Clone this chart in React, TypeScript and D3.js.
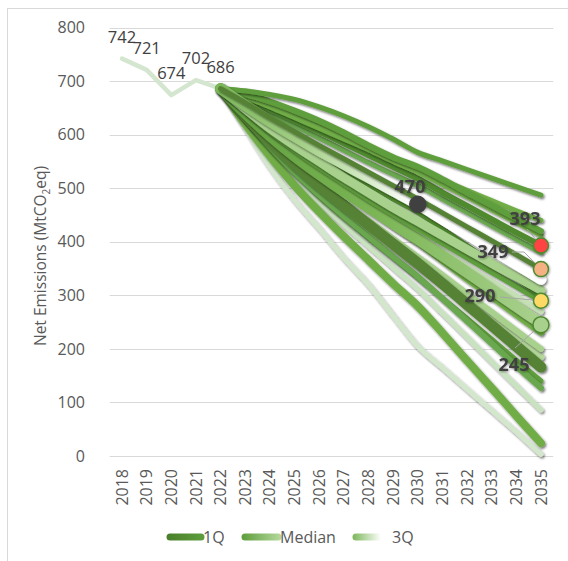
import React from 'react';
import * as d3 from 'd3';

const years = ['2018','2019','2020','2021','2022','2023','2024','2025','2026','2027','2028','2029','2030','2031','2032','2033','2034','2035'];
const historyYears = ['2018','2019','2020','2021','2022'];
const historyValues = [742, 721, 674, 702, 686];
const scenarioYears = ['2022','2023','2024','2025','2026','2027','2028','2029','2030','2031','2032','2033','2034','2035'];
const yTicks = [0, 100, 200, 300, 400, 500, 600, 700, 800];

const scenarioA = [686, 682, 675, 666, 652, 635, 615, 592, 567, 551, 535, 519, 503, 487];
const scenarioB = [686, 676, 662, 645, 626, 604, 580, 558, 540, 517, 492, 468, 444, 420];
const scenarioC = [686, 670, 652, 632, 612, 592, 572, 550, 530, 507, 484, 460, 436, 412];
const scenarioD = [686, 668, 648, 627, 606, 584, 562, 540, 518, 492, 467, 442, 417, 393];
const scenarioE = [686, 664, 640, 617, 594, 571, 548, 526, 505, 480, 455, 430, 405, 380];
const scenarioF = [686, 655, 625, 597, 570, 545, 520, 495, 470, 442, 414, 386, 358, 330];
const scenarioG = [686, 660, 632, 606, 580, 555, 530, 505, 480, 454, 428, 402, 376, 349];
const scenarioH = [686, 648, 612, 580, 550, 520, 492, 464, 438, 412, 386, 360, 335, 310];
const scenarioI = [686, 645, 606, 572, 540, 510, 480, 452, 425, 398, 371, 344, 317, 290];
const scenarioJ = [686, 640, 598, 560, 526, 494, 464, 434, 405, 374, 343, 311, 279, 248];
const scenarioK = [686, 635, 588, 545, 505, 468, 432, 396, 360, 322, 283, 244, 205, 166];
const scenarioL = [686, 630, 578, 530, 488, 448, 410, 372, 335, 294, 252, 210, 168, 127];
const scenarioM = [686, 625, 570, 520, 474, 432, 392, 352, 312, 267, 222, 176, 131, 86];
const scenarioN = [686, 620, 560, 505, 456, 410, 366, 322, 280, 230, 178, 127, 75, 24];
const scenarioO = [686, 612, 540, 478, 425, 370, 320, 262, 205, 165, 125, 85, 45, 3];
const scenarioP = [686, 672, 656, 638, 619, 599, 578, 556, 534, 515, 496, 477, 458, 440];
const scenarioQ = [686, 652, 620, 590, 561, 534, 507, 480, 455, 424, 393, 362, 331, 300];
const scenarioR = [686, 642, 602, 566, 532, 500, 470, 441, 412, 383, 354, 326, 298, 270];
const scenarioS = [686, 636, 590, 548, 510, 474, 440, 406, 372, 338, 303, 269, 234, 200];
const scenarioT = [686, 632, 582, 538, 498, 460, 424, 390, 356, 322, 288, 254, 219, 185];
const scenarioU = [686, 645, 604, 566, 530, 496, 462, 430, 398, 364, 330, 297, 263, 230];
const scenarioV = [686, 628, 575, 528, 485, 445, 407, 370, 333, 295, 257, 218, 179, 140];

const markerYears = ['2030', '2035', '2035', '2035', '2035'];
const markerValues = [470, 393, 349, 290, 245];
const legendLabels = ['1Q', 'Median', '3Q'];

// draw order and styles (kept separate from the data)
const series = [scenarioO, scenarioM, scenarioN, scenarioT, scenarioV, scenarioL, scenarioS, scenarioU, scenarioK, scenarioR, scenarioJ, scenarioI, scenarioQ, scenarioH, scenarioP, scenarioE, scenarioD, scenarioC, scenarioB, scenarioA, scenarioF, scenarioG];
const seriesStyle = [
  { c: '#d3e7cc', w: 5, k: 'solid' },
  { c: '#c9e2bf', w: 5, k: 'solid' },
  { c: '#70ad47', w: 8, k: 'solid' },
  { c: '#b5d99c', w: 7, k: 'solid' },
  { c: '#5e9e3c', w: 5, k: 'solid' },
  { c: '#6aa84f', w: 6, k: 'solid' },
  { c: '#a9d18e', w: 6, k: 'solid' },
  { c: '#70ad47', w: 6, k: 'solid' },
  { c: '#548235', w: 11, k: 'solid' },
  { c: '#c5e0b4', w: 6, k: 'solid' },
  { c: '#6fae48', w: 11, k: 'median' },
  { c: '#5e9e3c', w: 6, k: 'solid' },
  { c: '#4f8a2f', w: 5, k: 'solid' },
  { c: '#a9d18e', w: 9, k: 'solid' },
  { c: '#70ad47', w: 5, k: 'solid' },
  { c: '#6aa84f', w: 5, k: 'solid' },
  { c: '#4f8a2f', w: 6, k: 'solid' },
  { c: '#70ad47', w: 5, k: 'solid' },
  { c: '#5e9e3c', w: 6, k: 'solid' },
  { c: '#5e9e3c', w: 5, k: 'solid' },
  { c: '#8cc168', w: 11, k: '3q' },
  { c: '#548235', w: 5, k: 'solid' },
];
const markerStyle = [
  { fill: '#404040', stroke: '#404040', r: 8, lx: 410, ly: 193 },
  { fill: '#ff4343', stroke: '#4f8a2f', r: 7.5, lx: 525, ly: 225 },
  { fill: '#f4b183', stroke: '#4f8a2f', r: 7.5, lx: 493, ly: 258 },
  { fill: '#ffd966', stroke: '#4f8a2f', r: 7.5, lx: 480, ly: 302 },
  { fill: '#a9d18e', stroke: '#4f8a2f', r: 8, lx: 514, ly: 371 },
];

const W = 568, H = 561;
const FONT = "'Open Sans', 'Noto Sans', sans-serif";

export default function App() {
  const x = d3.scalePoint<string>().domain(years).range([109.7, 553.3]).padding(0.5);
  const y = d3.scaleLinear().domain([0, 800]).range([456, 27.6]);
  const curve = d3.curveCatmullRom.alpha(0.5);
  const lineS = d3.line<number>().x((_, i) => x(scenarioYears[i]) as number).y(d => y(d)).curve(curve);
  const lineH = d3.line<number>().x((_, i) => x(historyYears[i]) as number).y(d => y(d));
  const x0 = x('2022') as number;
  const x1 = x('2035') as number;

  return (
    <svg width={W} height={H} style={{ position: 'absolute', left: 0, top: 0, background: '#fff' }} fontFamily={FONT}>
      <defs>
        <filter id="sh" x="-20%" y="-20%" width="140%" height="140%">
          <feDropShadow dx="1.2" dy="1.6" stdDeviation="1.1" floodColor="#000" floodOpacity="0.55" />
        </filter>
        <filter id="tsh" x="-20%" y="-20%" width="140%" height="140%">
          <feDropShadow dx="0.8" dy="1" stdDeviation="0.8" floodColor="#000" floodOpacity="0.35" />
        </filter>
        <linearGradient id="gMedian" gradientUnits="userSpaceOnUse" x1={x0} y1={0} x2={x1} y2={0}>
          <stop offset="0" stopColor="#5e9e3c" />
          <stop offset="0.5" stopColor="#7cb656" />
          <stop offset="1" stopColor="#a9d18e" />
        </linearGradient>
        <linearGradient id="g3q" gradientUnits="userSpaceOnUse" x1={x0} y1={0} x2={x1} y2={0}>
          <stop offset="0" stopColor="#7db85a" />
          <stop offset="0.25" stopColor="#a3cf86" />
          <stop offset="0.45" stopColor="#d4eac6" />
          <stop offset="0.6" stopColor="#ffffff" />
          <stop offset="1" stopColor="#ffffff" />
        </linearGradient>
        <linearGradient id="lg1" gradientUnits="userSpaceOnUse" x1={167} x2={204} y1={0} y2={0}>
          <stop offset="0" stopColor="#4a7f2c" />
          <stop offset="1" stopColor="#5e9e3c" />
        </linearGradient>
        <linearGradient id="lg2" gradientUnits="userSpaceOnUse" x1={242} x2={281} y1={0} y2={0}>
          <stop offset="0" stopColor="#5e9e3c" />
          <stop offset="1" stopColor="#b5d99c" />
        </linearGradient>
        <linearGradient id="lg3" gradientUnits="userSpaceOnUse" x1={353} x2={381} y1={0} y2={0}>
          <stop offset="0" stopColor="#7db85a" />
          <stop offset="1" stopColor="#ffffff" />
        </linearGradient>
      </defs>

      {/* chart border */}
      <line x1={7.5} x2={7.5} y1={8} y2={H} stroke="#d9d9d9" />
      <line x1={7} x2={W} y1={8.5} y2={8.5} stroke="#d9d9d9" />

      {/* gridlines */}
      {yTicks.map(t => (
        <line key={t} x1={109.7} x2={553.3} y1={Math.round(y(t)) + 0.5} y2={Math.round(y(t)) + 0.5} stroke="#d9d9d9" strokeWidth={1} />
      ))}
      {yTicks.map(t => (
        <text key={'t' + t} x={85} y={y(t)} dy="0.35em" textAnchor="end" fontSize={16} fill="#595959">{t}</text>
      ))}
      {years.map(yr => (
        <text key={yr} transform={`translate(${x(yr)},469) rotate(-90)`} dy="0.35em" textAnchor="end" fontSize={16} fill="#595959">{yr}</text>
      ))}
      <text transform={`translate(41,256) rotate(-90)`} textAnchor="middle" dy="0.35em" fontSize={15.5} fill="#595959">
        Net Emissions (MtCO<tspan fontSize={10} dy="4">2</tspan><tspan dy="-4">eq)</tspan>
      </text>

      {/* history */}
      <path d={lineH(historyValues) || ''} fill="none" stroke="#d4e6cf" strokeWidth={4.5} strokeLinecap="round" strokeLinejoin="round" />
      {historyValues.map((v, i) => (
        <text key={'h' + i} x={x(historyYears[i])} y={y(v) - 16} textAnchor="middle" fontSize={16.5} fill="#404040">{v}</text>
      ))}

      {/* scenarios */}
      {series.map((s, i) => {
        const st = seriesStyle[i];
        const stroke = st.k === 'median' ? 'url(#gMedian)' : st.k === '3q' ? 'url(#g3q)' : st.c;
        return (
          <path key={'s' + i} d={lineS(s) || ''} fill="none" stroke={stroke} strokeWidth={st.w} strokeLinecap="round" strokeLinejoin="round" filter="url(#sh)" />
        );
      })}

      {/* leader lines */}
      <g stroke="#a6a6a6" strokeWidth={1} fill="none">
        <polyline points={`527,229 ${x('2035')},${y(markerValues[1])}`} />
        <polyline points={`512,252 524,252 ${x('2035')},${y(markerValues[2])}`} />
        <polyline points={`500,297 ${x('2035')},${y(markerValues[3])}`} />
        <polyline points={`515,348 ${x('2035')},${y(markerValues[4])}`} />
      </g>

      {/* markers */}
      {markerValues.map((v, i) => (
        <circle key={'m' + i} cx={x(markerYears[i])} cy={y(v)} r={markerStyle[i].r} fill={markerStyle[i].fill} stroke={markerStyle[i].stroke} strokeWidth={1.5} filter="url(#tsh)" />
      ))}
      {markerValues.map((v, i) => (
        <text key={'ml' + i} x={markerStyle[i].lx} y={markerStyle[i].ly} textAnchor="middle" fontSize={18} fontWeight="bold" fill="#404040" filter="url(#tsh)">{v}</text>
      ))}

      {/* legend */}
      <line x1={170} x2={201} y1={537} y2={537} stroke="url(#lg1)" strokeWidth={7} strokeLinecap="round" />
      <text x={203} y={537} dy="0.35em" fontSize={16} fill="#595959">{legendLabels[0]}</text>
      <line x1={245} x2={278} y1={537} y2={537} stroke="url(#lg2)" strokeWidth={7} strokeLinecap="round" />
      <text x={280} y={537} dy="0.35em" fontSize={16} fill="#595959">{legendLabels[1]}</text>
      <line x1={356} x2={380} y1={537} y2={537} stroke="url(#lg3)" strokeWidth={7} strokeLinecap="round" />
      <text x={392} y={537} dy="0.35em" fontSize={16} fill="#595959">{legendLabels[2]}</text>
    </svg>
  );
}
